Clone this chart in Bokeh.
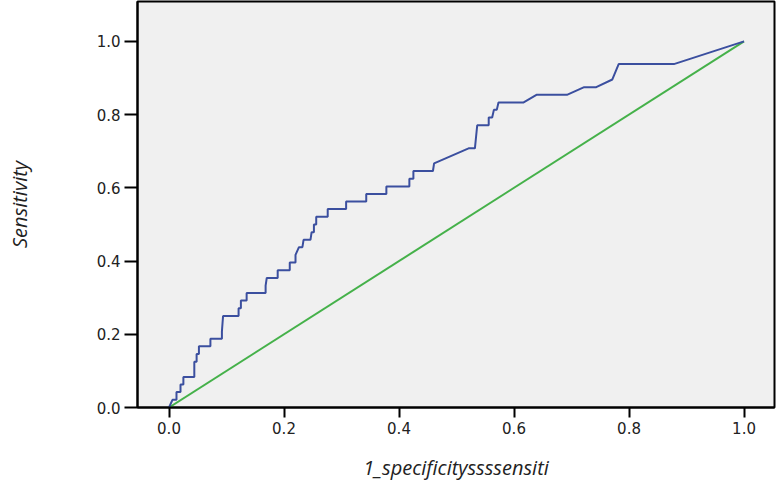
from bokeh.plotting import figure
from bokeh.models import Range1d, FixedTicker, PrintfTickFormatter
from bokeh.embed import file_html
from bokeh.resources import INLINE

# ROC curve vertices (1 - specificity, sensitivity)
fpr = [0.000, 0.006, 0.013, 0.013, 0.020, 0.020, 0.025, 0.025, 0.044, 0.044,
       0.048, 0.048, 0.052, 0.052, 0.072, 0.072, 0.092, 0.092, 0.094, 0.121,
       0.121, 0.125, 0.125, 0.135, 0.135, 0.168, 0.168, 0.170, 0.189, 0.189,
       0.210, 0.210, 0.220, 0.220, 0.226, 0.232, 0.234, 0.246, 0.248, 0.252,
       0.252, 0.256, 0.256, 0.276, 0.276, 0.308, 0.308, 0.343, 0.343, 0.378,
       0.378, 0.418, 0.418, 0.425, 0.425, 0.459, 0.461, 0.521, 0.532, 0.536,
       0.556, 0.556, 0.562, 0.565, 0.570, 0.573, 0.616, 0.639, 0.692, 0.722,
       0.743, 0.771, 0.782, 0.878, 1.000]
tpr = [0.000, 0.021, 0.021, 0.042, 0.042, 0.063, 0.063, 0.083, 0.083, 0.125,
       0.125, 0.146, 0.146, 0.167, 0.167, 0.188, 0.188, 0.208, 0.250, 0.250,
       0.271, 0.271, 0.292, 0.292, 0.313, 0.313, 0.333, 0.354, 0.354, 0.375,
       0.375, 0.396, 0.396, 0.417, 0.438, 0.438, 0.458, 0.458, 0.479, 0.479,
       0.500, 0.500, 0.521, 0.521, 0.542, 0.542, 0.563, 0.563, 0.583, 0.583,
       0.604, 0.604, 0.625, 0.625, 0.646, 0.646, 0.667, 0.708, 0.708, 0.771,
       0.771, 0.792, 0.792, 0.813, 0.813, 0.833, 0.833, 0.854, 0.854, 0.875,
       0.875, 0.896, 0.938, 0.938, 1.000]

# reference (chance) line
ref_x = [0.0, 1.0]
ref_y = [0.0, 1.0]

ticks = [0.0, 0.2, 0.4, 0.6, 0.8, 1.0]
x_label = "1_specificityssssensiti"
y_label = "Sensitivity"

p = figure(width=777, height=483,
           x_range=Range1d(-0.0548, 1.053), y_range=Range1d(0.0, 1.109),
           output_backend="svg", toolbar_location=None,
           min_border_left=137, min_border_right=3,
           min_border_top=1, min_border_bottom=76)

p.background_fill_color = "#F0F0F0"
p.border_fill_color = "white"
p.outline_line_color = "black"
p.outline_line_width = 2
p.grid.visible = False

p.line(ref_x, ref_y, line_color="#45B14A", line_width=2)
p.line(fpr, tpr, line_color="#3B4F9F", line_width=2)

for ax in (p.xaxis[0], p.yaxis[0]):
    ax.ticker = FixedTicker(ticks=ticks)
    ax.formatter = PrintfTickFormatter(format="%.1f")
    ax.axis_line_color = "black"
    ax.axis_line_width = 2
    ax.major_tick_line_color = "black"
    ax.major_tick_line_width = 2
    ax.major_tick_in = 0
    ax.minor_tick_line_color = None
    ax.major_label_text_font = "DejaVu Sans"
    ax.major_label_text_font_size = "15px"
    ax.major_label_text_color = "#222222"
    ax.axis_label_text_font = "Open Sans"
    ax.axis_label_text_font_style = "italic"
    ax.axis_label_text_font_size = "20px"
    ax.axis_label_text_color = "#222222"

p.xaxis.axis_label = x_label
p.xaxis.major_tick_out = 10
p.xaxis.major_label_standoff = 4
p.xaxis.axis_label_standoff = 17

p.yaxis.axis_label = y_label
p.yaxis.major_tick_out = 13
p.yaxis.major_label_standoff = 4
p.yaxis.axis_label_standoff = 61

open("out.html", "w").write(file_html(p, INLINE))
